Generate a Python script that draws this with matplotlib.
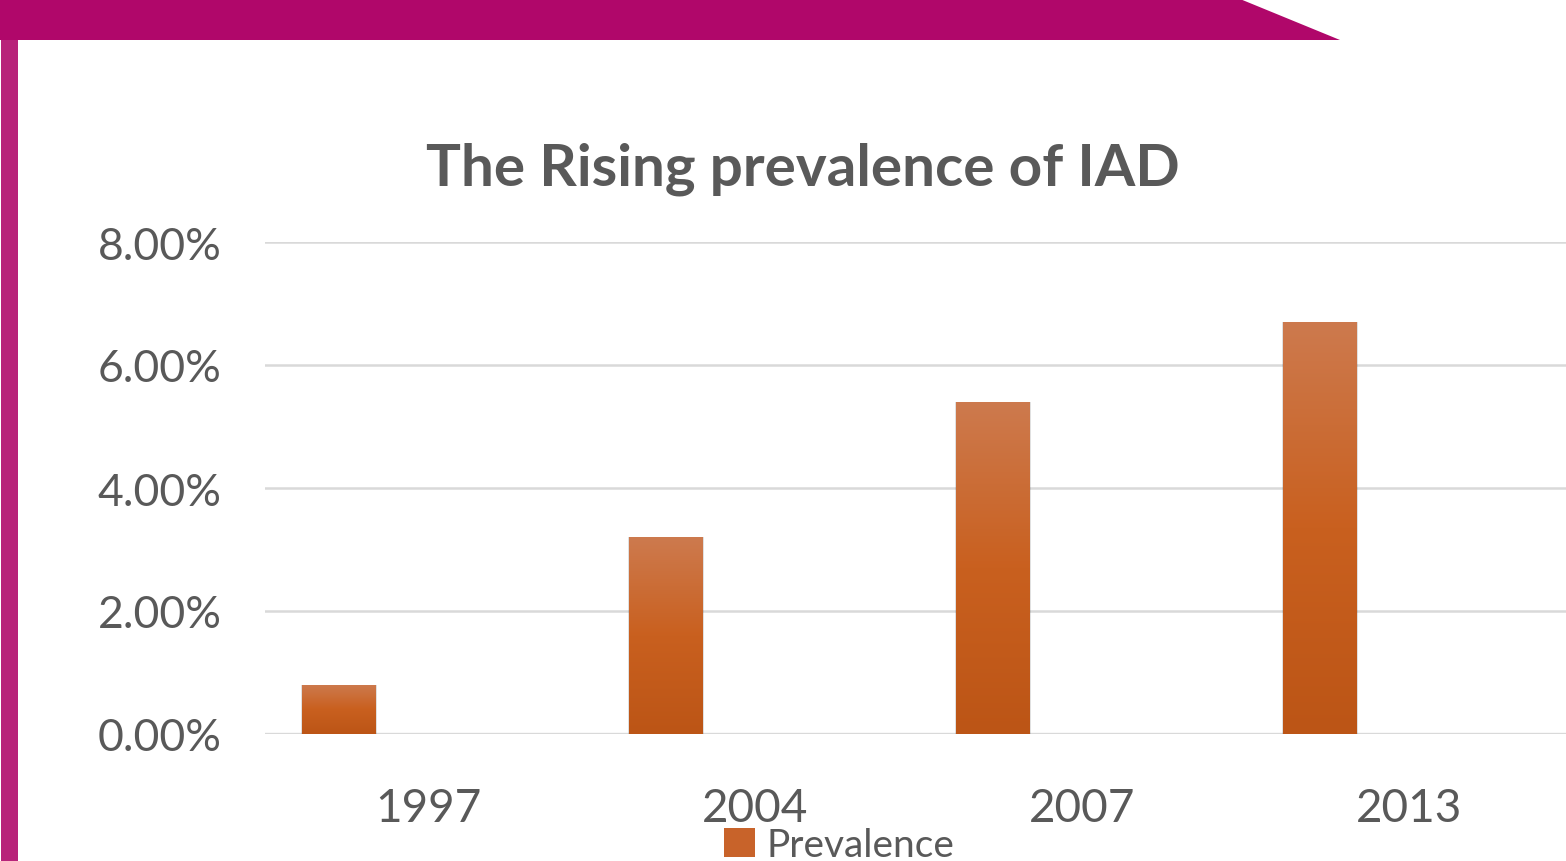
import matplotlib
matplotlib.use("Agg")
import matplotlib.pyplot as plt
import numpy as np
from matplotlib.patches import Polygon, Rectangle, Patch
from matplotlib.colors import LinearSegmentedColormap
from matplotlib.ticker import FuncFormatter

years = ["1997", "2004", "2007", "2013"]
prevalence = [0.008, 0.032, 0.054, 0.067]
yticks = [0.0, 0.02, 0.04, 0.06, 0.08]
title = "The Rising prevalence of IAD"
series_name = "Prevalence"

W, H = 1566, 862
plt.rcParams['font.family'] = ['Lato', 'DejaVu Sans']
fig = plt.figure(figsize=(W / 100, H / 100), dpi=100)
TXT = "#595959"

# decorative banner
fig.patches.append(Polygon(np.array([[0, 1], [1240 / W, 1], [1340 / W, 1 - 41 / H], [0, 1 - 41 / H]]),
                           closed=True, transform=fig.transFigure, facecolor="#B0076A",
                           edgecolor="none", zorder=5))
fig.patches.append(Rectangle((1 / W, 0), 17 / W, 1 - 41 / H, transform=fig.transFigure,
                             facecolor="#B8237A", edgecolor="none", zorder=5))

ax = fig.add_axes([265 / W, (H - 735) / H, 1 - 265 / W, (735 - 243) / H])
x = np.arange(len(years))

bar_w = 74 / 327
offset = -89.5 / 327
cmap = LinearSegmentedColormap.from_list("g", ["#BC5516", "#C9601F", "#CD7A4E"])
grad = np.linspace(0, 1, 256).reshape(-1, 1)
bars = ax.bar(x + offset, prevalence, width=bar_w, color="#C8632A", zorder=3)
for b in bars:
    x0, w, h = b.get_x(), b.get_width(), b.get_height()
    ax.add_patch(Rectangle((x0 - 0.004, -0.0003), w + 0.008, h + 0.0003,
                           facecolor="#000000", alpha=0.12, edgecolor="none", zorder=2))
    im = ax.imshow(grad, extent=[x0, x0 + w, 0, h], origin="lower", cmap=cmap,
                   aspect="auto", zorder=4)
    im.set_clip_path(b)

ax.set_yticks(yticks)
ax.yaxis.set_major_formatter(FuncFormatter(lambda v, p: f"{v * 100:.2f}%"))
ax.set_xticks(x)
ax.set_xticklabels(years)
ax.grid(axis="y", color="#D9D9D9", linewidth=1.8, zorder=0)
ax.axhline(0, color="#D9D9D9", linewidth=2.4, zorder=1)
for s in ax.spines.values():
    s.set_visible(False)
ax.tick_params(axis="both", length=0, colors=TXT, labelsize=33)
ax.tick_params(axis="y", pad=31, labelsize=32)
ax.tick_params(axis="x", pad=38)
ax.set_xlim(-0.5, (1566 - 428.5) / 327)
ax.set_ylim(0, 0.08)

fig.text(803 / W, (H - 185) / H, title, ha="center", va="baseline",
         fontsize=42, fontweight="bold", color=TXT)

fig.legend(handles=[Patch(facecolor="#C8632A", edgecolor="none", label=series_name)],
           loc="center", bbox_to_anchor=(839 / W, (H - 846) / H), frameon=False,
           fontsize=28, labelcolor=TXT, handlelength=0.8, handleheight=0.8,
           handletextpad=0.3, borderpad=0)

fig.savefig("out.png", dpi=100, facecolor="white")
